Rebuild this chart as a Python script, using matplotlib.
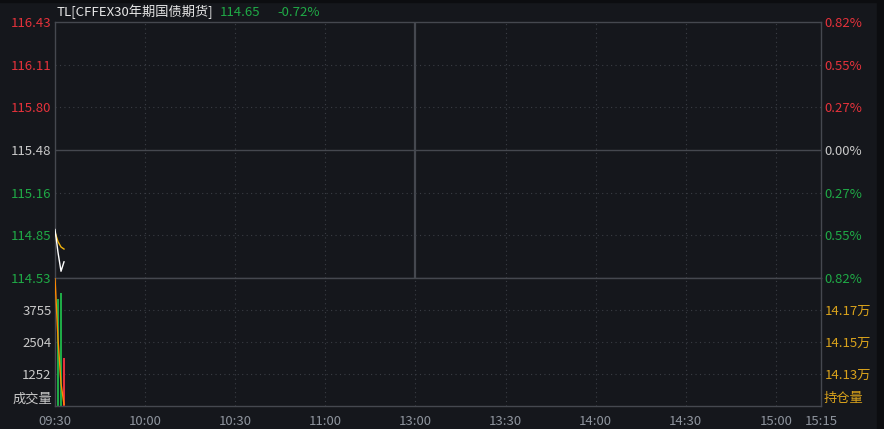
import matplotlib
matplotlib.use('Agg')
import matplotlib.pyplot as plt
from matplotlib.patches import Rectangle

plt.rcParams['font.family'] = ['Noto Sans CJK SC', 'DejaVu Sans']

# minute index from 09:30 (midday break removed)
minutes = [0, 1, 2, 3]
price = [114.89, 114.72, 114.58, 114.65]
avg_price = [114.87, 114.80, 114.76, 114.745]
volume = [4690, 4180, 4420, 1880]
open_interest = [14.190, 14.152, 14.124, 14.111]  # 万手

pre_close = 115.48
last_price = 114.65
change_pct = -0.72

price_ticks = [114.53, 114.85, 115.16, 115.48, 115.80, 116.11, 116.43]
pct_labels = ['0.82%', '0.55%', '0.27%', '0.00%', '0.27%', '0.55%', '0.82%']
vol_ticks = [1252, 2504, 3755]
oi_ticks = [14.13, 14.15, 14.17]
time_ticks = [0, 30, 60, 90, 120, 150, 180, 210, 240, 255]
time_labels = ['09:30', '10:00', '10:30', '11:00', '13:00', '13:30',
               '14:00', '14:30', '15:00', '15:15']

bg = '#15171c'
grid_c = '#3a3d44'
line_c = '#45484f'
red = '#e5323b'
green = '#1faa46'
gray = '#c9c9c9'
gold = '#d9a21b'
time_c = '#8d939c'
fs = 9.5

W, H = 884, 429
fig = plt.figure(figsize=(W / 100, H / 100), dpi=100, facecolor=bg)

def box(x0, y0, x1, y1):
    return [x0 / W, 1 - y1 / H, (x1 - x0) / W, (y1 - y0) / H]

ax = fig.add_axes(box(55, 22, 821, 278))
axv = fig.add_axes(box(55, 278, 821, 406))

for a in (ax, axv):
    a.set_facecolor(bg)
    a.set_xlim(0, 255)
    for s in a.spines.values():
        s.set_color(line_c)
        s.set_linewidth(1.0)
    a.set_xticks(time_ticks)
    a.tick_params(length=0)
    for t in [30, 60, 90, 150, 180, 210, 240]:
        a.axvline(t, color=grid_c, lw=0.8, ls=(0, (1, 3)), zorder=0)

# price panel
ax.set_ylim(114.53, 116.43)
ax.axvline(120, color=line_c, lw=1.6, zorder=0)
ax.axhline(pre_close, color=line_c, lw=1.0, zorder=0)
for p in price_ticks[1:-1]:
    if p != pre_close:
        ax.axhline(p, color=grid_c, lw=0.8, ls=(0, (1, 3)), zorder=0)
ax.set_xticklabels([])
ax.set_yticks(price_ticks)
ax.set_yticklabels(['%.2f' % p for p in price_ticks], fontsize=fs)
ax.tick_params(axis='y', pad=2.5)
axr = ax.twinx()
axr.set_ylim(ax.get_ylim())
axr.set_yticks(price_ticks)
axr.set_yticklabels(pct_labels, fontsize=fs)
axr.tick_params(length=0, pad=2.5)
for s in axr.spines.values():
    s.set_visible(False)
for lab_l, lab_r, p in zip(ax.get_yticklabels(), axr.get_yticklabels(), price_ticks):
    c = red if p > pre_close else (green if p < pre_close else gray)
    lab_l.set_color(c)
    lab_r.set_color(c)

ax.plot(minutes, avg_price, color='#f2b40c', lw=1.0, zorder=3)
ax.plot(minutes, price, color='white', lw=1.0, zorder=4)

# volume panel
vol_max = vol_ticks[-1] * 4 / 3
axv.set_ylim(0, vol_max)
for v in vol_ticks:
    axv.axhline(v, color=grid_c, lw=0.8, ls=(0, (1, 3)), zorder=0)
axv.axvline(120, color=grid_c, lw=0.8, ls=(0, (1, 3)), zorder=0)
prev = [pre_close] + price[:-1]
bar_colors = [red if p >= q else green for p, q in zip(price, prev)]
axv.bar(minutes, volume, width=0.45, color=bar_colors, zorder=2)
axv.set_yticks(vol_ticks)
axv.set_yticklabels([str(v) for v in vol_ticks], fontsize=fs, color=gray)
axv.tick_params(axis='y', pad=2.5)
axv.set_xticklabels(time_labels, fontsize=fs, color=time_c)
axv.tick_params(axis='x', pad=6.5)
axv.text(-0.003, 0.005, '成交量', transform=axv.transAxes, ha='right', va='bottom',
         fontsize=fs, color=gray)

axo = axv.twinx()
axo.set_ylim(14.11, 14.19)
axo.plot(minutes, open_interest, color='#ff8a00', lw=1.0, zorder=3)
axo.set_yticks(oi_ticks)
axo.set_yticklabels(['%.2f万' % v for v in oi_ticks], fontsize=fs, color=gold)
axo.tick_params(length=0, pad=2.5)
for s in axo.spines.values():
    s.set_visible(False)
axo.text(1.003, 0.005, '持仓量', transform=axv.transAxes, ha='left', va='bottom',
         fontsize=fs, color=gold)

# header
fig.text(57 / W, 1 - 12 / H, 'TL[CFFEX30年期国债期货]', fontsize=fs, color='#e6e6e6',
         ha='left', va='center')
fig.text(220 / W, 1 - 12 / H, '%.2f' % last_price, fontsize=fs, color=green,
         ha='left', va='center')
fig.text(277 / W, 1 - 12 / H, '%.2f%%' % change_pct, fontsize=fs, color=green,
         ha='left', va='center')

# window edges
fig.patches.append(Rectangle((877 / W, 0), 7 / W, 1, transform=fig.transFigure,
                             color='#0c0d10', zorder=-1))
fig.patches.append(Rectangle((0, 1 - 2 / H), 1, 2 / H, transform=fig.transFigure,
                             color='#0c0d10', zorder=-1))

fig.savefig('out.png', dpi=100, facecolor=bg)
